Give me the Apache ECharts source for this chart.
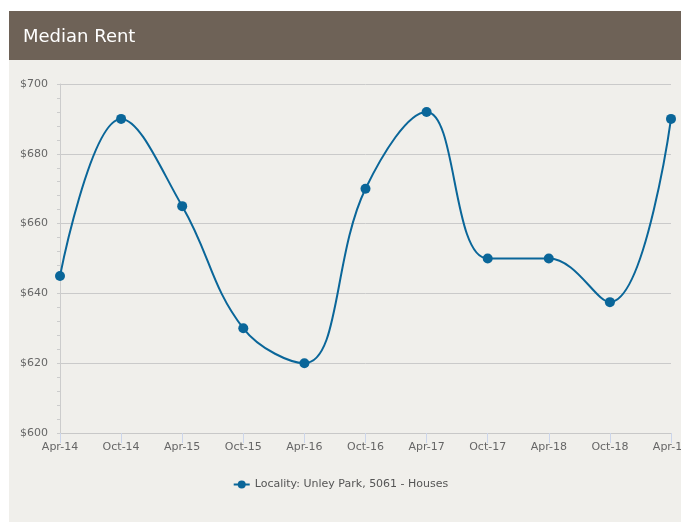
<!DOCTYPE html>
<html>
<head>
<meta charset="utf-8">
<script src="https://cdn.jsdelivr.net/npm/echarts@6/dist/echarts.min.js"></script>
<style>
    html, body { margin: 0; padding: 0; background: #ffffff; }
    #median-rent { width: 681px; height: 523px; }
</style>
</head>
<body>
<div id="median-rent"></div>
<script>
// 半年度数据
let categories = ['Apr-14', 'Oct-14', 'Apr-15', 'Oct-15', 'Apr-16', 'Oct-16',
    'Apr-17', 'Oct-17', 'Apr-18', 'Oct-18', 'Apr-19'];
let rentValues = [645, 690, 665, 630, 620, 670, 692, 650, 650, 637.5, 690];
let seriesName = 'Locality: Unley Park, 5061 - Houses';
let yTicks = [600, 620, 640, 660, 680, 700];

let lineColor = '#0a6699';
let font = 'DejaVu Sans';

let option = {
    backgroundColor: '#ffffff',
    animation: false,
    title: {
        text: 'Median Rent',
        left: 18,
        top: 23,
        textStyle: {
            color: '#ffffff',
            fontFamily: font,
            fontSize: 18,
            fontWeight: 'normal'
        }
    },
    graphic: [
        {
            type: 'rect',
            z: -10,
            shape: {x: 9, y: 11, width: 672, height: 511},
            style: {fill: '#f0efeb'}
        },
        {
            type: 'rect',
            z: -9,
            shape: {x: 9, y: 11, width: 672, height: 49},
            style: {fill: '#6e6257'}
        }
    ],
    legend: {
        data: [seriesName],
        bottom: 28,
        left: 'center',
        itemWidth: 16,
        itemHeight: 10,
        textStyle: {
            color: '#555555',
            fontFamily: font,
            fontSize: 11
        }
    },
    grid: {
        left: 60,
        right: 10,
        top: 84,
        bottom: 90,
        containLabel: false,
        outerBoundsMode: 'none'
    },
    xAxis: {
        type: 'category',
        data: categories,
        boundaryGap: false,
        axisLine: {
            lineStyle: {color: '#c8c8c8'}
        },
        axisTick: {
            length: 10,
            lineStyle: {color: '#ccd6eb'}
        },
        axisLabel: {
            color: '#666666',
            fontFamily: font,
            fontSize: 11,
            margin: 9,
            interval: 0
        },
        splitLine: {show: false}
    },
    yAxis: {
        type: 'value',
        min: yTicks[0],
        max: yTicks[yTicks.length - 1],
        interval: 20,
        axisLine: {
            show: true,
            lineStyle: {color: '#cccccc'}
        },
        axisTick: {
            show: true,
            length: 3,
            lineStyle: {color: '#cccccc'}
        },
        minorTick: {
            show: true,
            splitNumber: 5,
            length: 3,
            lineStyle: {color: '#cccccc'}
        },
        axisLabel: {
            color: '#666666',
            fontFamily: font,
            fontSize: 11,
            margin: 12,
            formatter: (v) => '$' + v
        },
        splitLine: {
            lineStyle: {color: '#cacaca'}
        }
    },
    series: [
        {
            name: seriesName,
            type: 'line',
            data: rentValues,
            smooth: 0.4,
            symbol: 'circle',
            symbolSize: 10,
            lineStyle: {
                color: lineColor,
                width: 2
            },
            itemStyle: {
                color: lineColor
            }
        }
    ]
};

let chart = echarts.init(document.getElementById('median-rent'));
chart.setOption(option);
</script>
</body>
</html>
